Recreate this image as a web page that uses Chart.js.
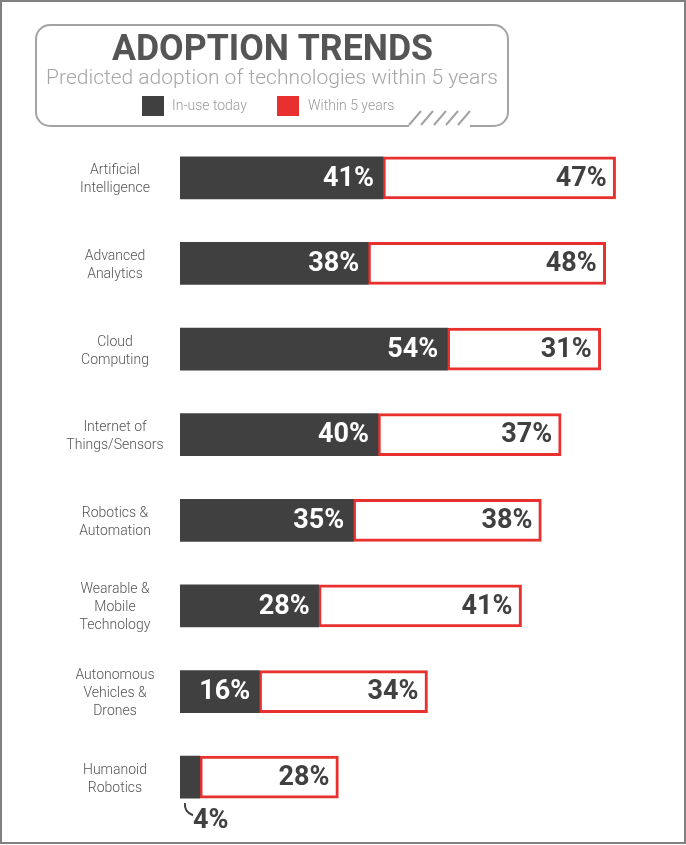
<!DOCTYPE html>
<html>
<head>
<meta charset="utf-8">
<title>Adoption Trends</title>
<script src="https://cdn.jsdelivr.net/npm/chart.js@4.4.1/dist/chart.umd.min.js"></script>
<style>
  html, body { margin: 0; padding: 0; background: #fff; }
  #wrap { position: relative; width: 686px; height: 845px; }
</style>
</head>
<body>
<div id="wrap"><canvas id="adoptionChart" width="686" height="845"></canvas></div>
<script>
// Chart data
const categories = [
  ['Artificial', 'Intelligence'],
  ['Advanced', 'Analytics'],
  ['Cloud', 'Computing'],
  ['Internet of', 'Things/Sensors'],
  ['Robotics &', 'Automation'],
  ['Wearable &', 'Mobile', 'Technology'],
  ['Autonomous', 'Vehicles &', 'Drones'],
  ['Humanoid', 'Robotics']
];
const inUseToday = [41, 38, 54, 40, 35, 28, 16, 4];
const withinFiveYears = [47, 48, 31, 37, 38, 41, 34, 28];
const seriesNames = ['In-use today', 'Within 5 years'];
const titleText = 'ADOPTION TRENDS';
const subtitleText = 'Predicted adoption of technologies within 5 years';

const DARK = '#404040';
const RED = '#e8302f';
const FONT = 'Roboto, "Open Sans", sans-serif';

// Outer frame + header box with title, subtitle and legend
const headerPlugin = {
  id: 'header',
  beforeDraw(chart) {
    const ctx = chart.ctx;
    ctx.save();

    // outer frame
    ctx.strokeStyle = '#808080';
    ctx.lineWidth = 2;
    ctx.strokeRect(1, 1, 684, 842);

    // rounded header box with hatched notch
    const l = 36, t = 25, r = 508, b = 126, rad = 14;
    ctx.strokeStyle = '#a3a3a3';
    ctx.lineWidth = 2;
    ctx.beginPath();
    ctx.moveTo(409, b);
    ctx.lineTo(l + rad, b);
    ctx.arcTo(l, b, l, b - rad, rad);
    ctx.lineTo(l, t + rad);
    ctx.arcTo(l, t, l + rad, t, rad);
    ctx.lineTo(r - rad, t);
    ctx.arcTo(r, t, r, t + rad, rad);
    ctx.lineTo(r, b - rad);
    ctx.arcTo(r, b, r - rad, b, rad);
    ctx.lineTo(470, b);
    ctx.stroke();
    [409, 421, 434, 446, 458].forEach(x => {
      ctx.beginPath();
      ctx.moveTo(x, b - 1);
      ctx.lineTo(x + 12, b - 15);
      ctx.stroke();
    });

    // title (condensed look)
    ctx.fillStyle = '#555555';
    ctx.font = `bold 37px ${FONT}`;
    ctx.textBaseline = 'alphabetic';
    ctx.textAlign = 'left';
    const tw = ctx.measureText(titleText).width;
    const sx = 321 / tw;
    ctx.save();
    ctx.translate(112, 60);
    ctx.scale(sx, 1);
    ctx.fillText(titleText, 0, 0);
    ctx.restore();

    // subtitle
    ctx.fillStyle = '#a6a6a6';
    ctx.font = `300 21px ${FONT}`;
    ctx.textAlign = 'center';
    ctx.fillText(subtitleText, 272, 84);

    // legend
    ctx.font = `300 14px ${FONT}`;
    ctx.textAlign = 'left';
    ctx.textBaseline = 'middle';
    ctx.fillStyle = DARK;
    ctx.fillRect(142, 96, 22, 20);
    ctx.fillStyle = '#9a9a9a';
    ctx.fillText(seriesNames[0], 172, 106);
    ctx.fillStyle = RED;
    ctx.fillRect(277, 96, 22, 20);
    ctx.fillStyle = '#9a9a9a';
    ctx.fillText(seriesNames[1], 308, 106);

    ctx.restore();
  }
};

// Category labels to the left of each bar
const categoryLabelPlugin = {
  id: 'categoryLabels',
  afterDraw(chart) {
    const ctx = chart.ctx;
    const yScale = chart.scales.y;
    const lineH = 18;
    ctx.save();
    ctx.font = `300 14px ${FONT}`;
    ctx.fillStyle = '#555555';
    ctx.textAlign = 'center';
    ctx.textBaseline = 'middle';
    categories.forEach((lines, i) => {
      const cy = yScale.getPixelForValue(i) + 2;
      const top = cy - (lines.length - 1) * lineH / 2;
      lines.forEach((line, j) => ctx.fillText(line, 115, top + j * lineH));
    });
    ctx.restore();
  }
};

// Percentage labels inside bars (small ones go below with a leader)
const valueLabelPlugin = {
  id: 'valueLabels',
  afterDatasetsDraw(chart) {
    const ctx = chart.ctx;
    ctx.save();
    ctx.font = `bold 27px ${FONT}`;
    ctx.textBaseline = 'middle';
    chart.data.datasets.forEach((ds, di) => {
      const meta = chart.getDatasetMeta(di);
      meta.data.forEach((bar, i) => {
        const v = ds.data[i];
        const text = v + '%';
        const width = bar.x - bar.base;
        const tw = ctx.measureText(text).width;
        if (tw + 14 > width) {
          // outside, below the bar, with a small curved leader
          const bottom = bar.y + bar.height / 2;
          ctx.strokeStyle = DARK;
          ctx.lineWidth = 2;
          ctx.beginPath();
          ctx.moveTo(bar.base + 5, bottom + 5);
          ctx.quadraticCurveTo(bar.base + 4, bottom + 14, bar.base + 13, bottom + 17);
          ctx.stroke();
          ctx.fillStyle = DARK;
          ctx.textAlign = 'left';
          ctx.fillText(text, bar.base + 13, bottom + 23);
        } else {
          ctx.fillStyle = di === 0 ? '#ffffff' : DARK;
          ctx.textAlign = 'right';
          ctx.fillText(text, bar.x - 9, bar.y + 1);
        }
      });
    });
    ctx.restore();
  }
};

document.addEventListener('DOMContentLoaded', () => {
  const ctx = document.getElementById('adoptionChart').getContext('2d');
  new Chart(ctx, {
    type: 'bar',
    data: {
      labels: categories,
      datasets: [
        {
          label: seriesNames[0],
          data: inUseToday,
          backgroundColor: DARK,
          borderWidth: 0,
          barThickness: 42
        },
        {
          label: seriesNames[1],
          data: withinFiveYears,
          backgroundColor: '#ffffff',
          borderColor: RED,
          borderWidth: 3,
          borderSkipped: false,
          barThickness: 42
        }
      ]
    },
    options: {
      indexAxis: 'y',
      responsive: false,
      animation: false,
      layout: { padding: { left: 180, right: 11, top: 135, bottom: 25 } },
      scales: {
        x: { stacked: true, min: 0, max: 100, display: false },
        y: { stacked: true, display: false }
      },
      plugins: {
        legend: { display: false },
        title: { display: false },
        tooltip: { enabled: false }
      }
    },
    plugins: [headerPlugin, categoryLabelPlugin, valueLabelPlugin]
  });
});
</script>
</body>
</html>
